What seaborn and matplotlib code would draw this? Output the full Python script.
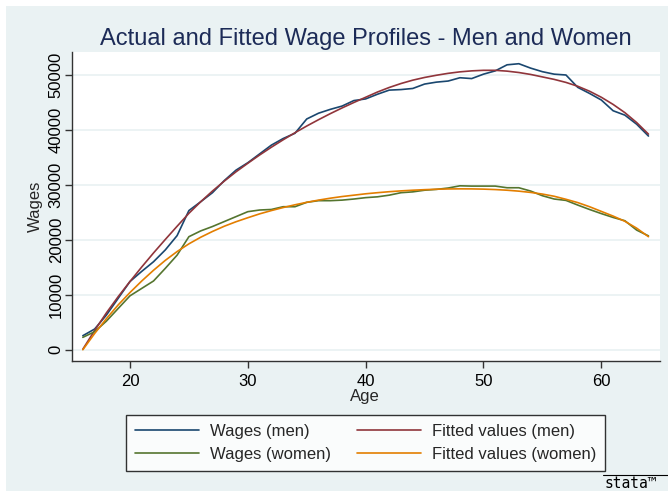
import matplotlib
matplotlib.use("Agg")
import matplotlib.pyplot as plt
import seaborn as sns
import pandas as pd
from matplotlib.lines import Line2D
from matplotlib.patches import Rectangle

ages = list(range(16, 65))
wage_men = [2550, 3760, 6300, 9350, 12400, 14250, 16000, 18150, 20750, 25300,
            26900, 28550, 30750, 32650, 34000, 35600, 37200, 38400, 39350, 41950,
            43000, 43700, 44300, 45300, 45600, 46450, 47200, 47300, 47500, 48300,
            48650, 48850, 49450, 49300, 50100, 50700, 51800, 52000, 51200, 50550,
            50100, 49950, 47700, 46600, 45400, 43450, 42650, 41000, 38850]
fit_men = [100, 3500, 6700, 9650, 12400, 15050, 17600, 20050, 22450, 24800,
           26900, 28850, 30650, 32350, 33900, 35400, 36820, 38170, 39450, 40670,
           41820, 42920, 43960, 44950, 45900, 46850, 47680, 48400, 49010, 49500,
           49900, 50250, 50520, 50700, 50800, 50800, 50650, 50400, 50050, 49600,
           49150, 48600, 47900, 47000, 45900, 44600, 43100, 41300, 39200]
wage_women = [2250, 3270, 5200, 7500, 9800, 11150, 12500, 14800, 17200, 20550,
              21600, 22400, 23300, 24200, 25100, 25400, 25500, 26000, 26000, 26800,
              27100, 27100, 27200, 27400, 27650, 27800, 28100, 28550, 28700, 29000,
              29150, 29400, 29800, 29750, 29750, 29750, 29450, 29450, 28850, 28000,
              27400, 27150, 26300, 25500, 24750, 24050, 23450, 21750, 20700]
fit_women = [0, 2950, 5650, 8150, 10400, 12500, 14450, 16250, 17850, 19250,
             20450, 21500, 22450, 23270, 24000, 24700, 25300, 25850, 26350, 26800,
             27200, 27550, 27850, 28100, 28350, 28550, 28730, 28880, 29000, 29100,
             29180, 29230, 29250, 29240, 29200, 29120, 29000, 28830, 28600, 28300,
             27900, 27350, 26750, 26000, 25150, 24300, 23350, 22100, 20550]

series_names = ["Wages (men)", "Fitted values (men)", "Wages (women)", "Fitted values (women)"]
series_vals = [wage_men, fit_men, wage_women, fit_women]
colors = ["#1A476F", "#90353B", "#55752F", "#E37E00"]
yticks = [0, 10000, 20000, 30000, 40000, 50000]
xticks = [20, 30, 40, 50, 60]

rows = []
for name, vals in zip(series_names, series_vals):
    for a, v in zip(ages, vals):
        rows.append({"Age": a, "Wages": v, "series": name})
df = pd.DataFrame(rows)

sns.set_theme(style="white")
plt.rcParams["font.family"] = ["Liberation Sans", "DejaVu Sans"]

W, H = 668, 491
fig = plt.figure(figsize=(W / 100, H / 100), dpi=100)
bg = "#EAF2F3"
fig.patch.set_facecolor("white")
fig.patches.append(Rectangle((6 / W, 0), 1 - 6 / W, 1 - 6 / H, transform=fig.transFigure,
                             facecolor=bg, edgecolor="none", zorder=-10))

ax = fig.add_axes([72 / W, 1 - 361 / H, (660 - 72) / W, (361 - 52) / H])
ax.set_facecolor("white")
sns.lineplot(data=df, x="Age", y="Wages", hue="series", hue_order=series_names,
             palette=colors, linewidth=1.2, ax=ax, legend=False, estimator=None)

ax.set_xlim(15.08, 64.98)
ax.set_ylim(-2050, 54130)
ax.set_xticks(xticks)
ax.set_yticks(yticks)
ax.set_yticklabels([str(t) for t in yticks], rotation=90, va="center")
ax.grid(axis="y", color=bg, linewidth=1.3)
ax.grid(axis="x", visible=False)
for s in ["top", "right"]:
    ax.spines[s].set_visible(False)
for s in ["left", "bottom"]:
    ax.spines[s].set_color("#333333")
    ax.spines[s].set_linewidth(1.0)
ax.tick_params(axis="both", which="major", direction="out", length=5, width=1,
               color="#333333", labelsize=12, labelcolor="black", bottom=True, left=True)
ax.tick_params(axis="x", pad=4)
ax.tick_params(axis="y", pad=1)
ax.set_xlabel("Age", fontsize=12)
ax.set_ylabel("Wages", fontsize=12)
ax.xaxis.set_label_coords(0.5 - 1 / 588, (361 - 397) / 309)
ax.xaxis.label.set_va("center")
ax.yaxis.set_label_coords((35 - 72) / 588, 0.5)
ax.yaxis.label.set_va("center")

fig.text(366 / W, 1 - 45 / H, "Actual and Fitted Wage Profiles - Men and Women",
         ha="center", va="baseline", fontsize=17, color="#1C2B57")

handles = [Line2D([], [], color=c, lw=1.2) for c in colors]
order = [0, 2, 1, 3]
leg = fig.legend([handles[i] for i in order], [series_names[i] for i in order],
                 ncol=2, loc="center",
                 bbox_to_anchor=(365.5 / W, 1 - 443 / H), frameon=True, fancybox=False,
                 fontsize=12, handlelength=3.85, handletextpad=0.65, columnspacing=1.55,
                 labelspacing=0.45, borderpad=0.55)
leg.get_frame().set_edgecolor("black")
leg.get_frame().set_linewidth(1.0)
leg.get_frame().set_facecolor("white")

fig.lines.append(Line2D([603 / W, 668 / W], [1 - 475 / H, 1 - 475 / H],
                        transform=fig.transFigure, color="black", lw=0.8))
fig.text(604 / W, 1 - 487.5 / H, "stata\u2122", fontsize=10.5, family="DejaVu Sans Mono",
         ha="left", va="baseline", color="black")

fig.savefig("out.png", dpi=100, facecolor=fig.get_facecolor())
